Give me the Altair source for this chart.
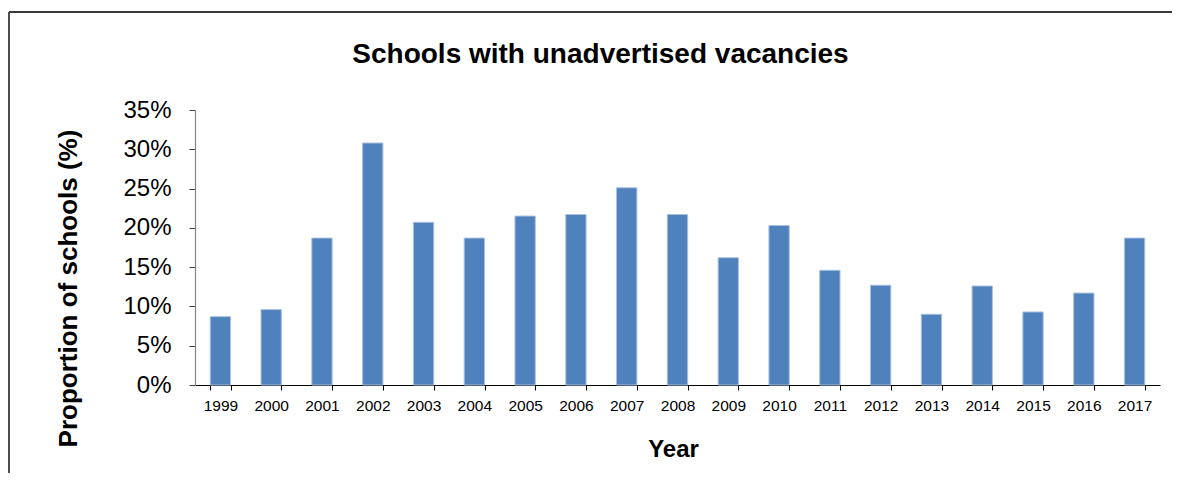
import altair as alt
import pandas as pd

years = ["1999", "2000", "2001", "2002", "2003", "2004", "2005", "2006", "2007", "2008",
         "2009", "2010", "2011", "2012", "2013", "2014", "2015", "2016", "2017"]
values = [8.7, 9.6, 18.7, 30.8, 20.7, 18.7, 21.5, 21.7, 25.1, 21.7,
          16.2, 20.3, 14.6, 12.7, 9.0, 12.6, 9.3, 11.7, 18.7]
y_ticks = [0, 5, 10, 15, 20, 25, 30, 35]

FONT = "Liberation Sans"

df = pd.DataFrame({"Year": years, "Value": values})

bars = alt.Chart(df).mark_bar(
    color="#4F81BD", stroke="#A9C1E0", strokeWidth=1
).encode(
    x=alt.X("Year:N", sort=years,
            scale=alt.Scale(paddingInner=0.6, paddingOuter=0.3),
            axis=alt.Axis(title="Year", labelAngle=0, tickBand="extent",
                          labelFontSize=15.5, labelFont=FONT, labelColor="#000000",
                          labelPadding=8, tickSize=5, tickColor="#000000",
                          domainColor="#000000", domainWidth=1.2,
                          titleFont=FONT, titleFontSize=24, titleFontWeight="bold",
                          titleColor="#000000", titleX=478, titleY=71,
                          titleBaseline="alphabetic", titleAlign="center")),
    y=alt.Y("Value:Q", scale=alt.Scale(domain=[0, 35], nice=False),
            axis=alt.Axis(title="Proportion of schools (%)", values=y_ticks,
                          labelExpr="datum.value + '%'", grid=False,
                          labelFontSize=24, labelFont=FONT, labelColor="#000000",
                          labelPadding=18, tickSize=6, tickColor="#404040",
                          domainColor="#868686", domainWidth=1.2,
                          titleFont=FONT, titleFontSize=26, titleFontWeight="bold",
                          titleColor="#000000", titleX=-119, titleY=178,
                          titleAngle=-90, titleAlign="center",
                          titleBaseline="alphabetic")),
)

frame_df = pd.DataFrame({"k": [0]})
left_line = alt.Chart(frame_df).mark_rule(color="#3a3a3a", strokeWidth=1.8).encode(
    x=alt.value(-186), y=alt.value(-98), y2=alt.value(363))
top_line = alt.Chart(frame_df).mark_rule(color="#3a3a3a", strokeWidth=1.8).encode(
    x=alt.value(-186), x2=alt.value(977), y=alt.value(-98))

chart = alt.layer(bars, left_line, top_line).properties(
    width=965, height=275,
    title=alt.TitleParams("Schools with unadvertised vacancies", font=FONT,
                          fontSize=28, fontWeight="bold", color="#000000",
                          anchor="middle", dx=-77, offset=-80,
                          baseline="alphabetic"),
    autosize=alt.AutoSizeParams(type="none"),
    padding={"left": 187, "top": 102, "right": 12, "bottom": 88},
).configure_view(stroke=None)

chart.save("out.html", embed_options={"renderer": "svg", "actions": False})
